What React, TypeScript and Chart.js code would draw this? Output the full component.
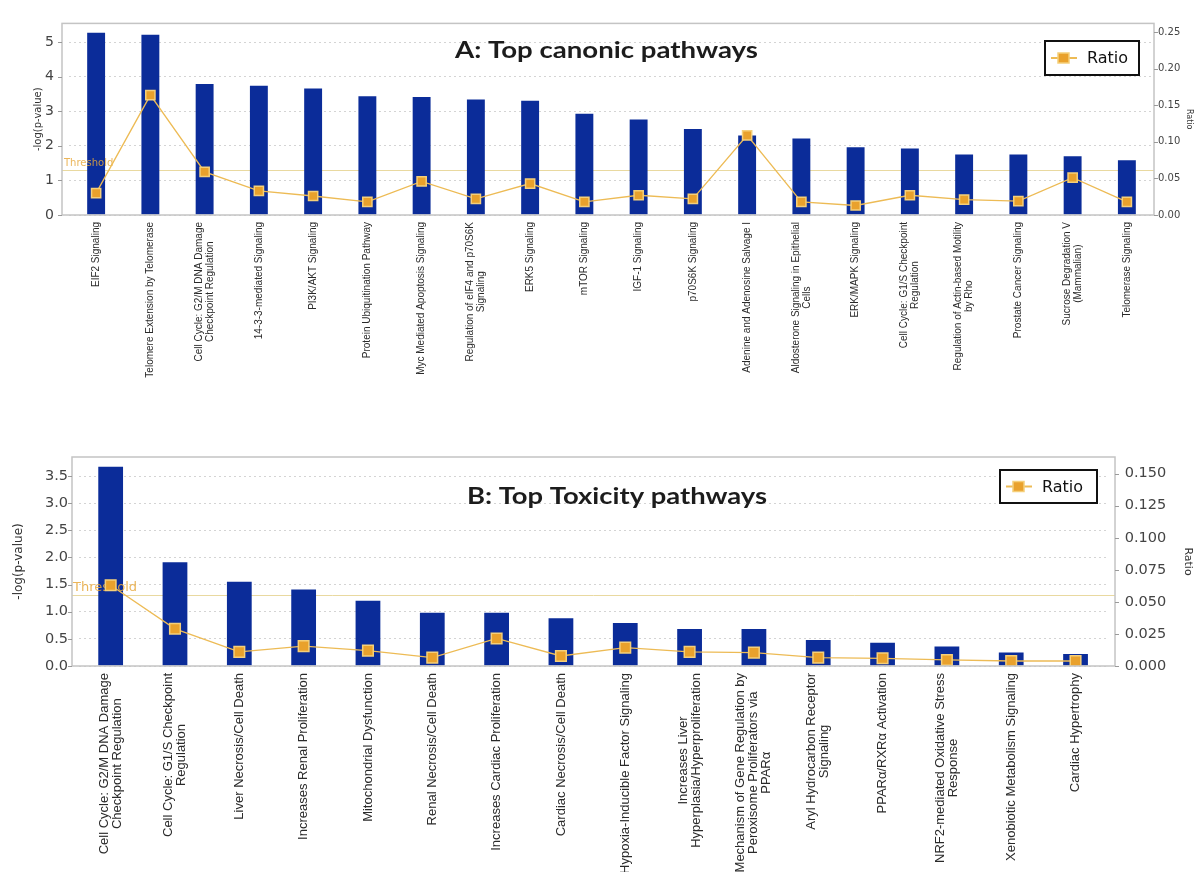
import React, { useEffect, useRef } from 'react';
import { Chart, registerables } from 'chart.js';

Chart.register(...registerables);

// ---------------- DATA ----------------
const canonicLabels: (string | string[])[] = [
  'EIF2 Signaling',
  'Telomere Extension by Telomerase',
  ['Cell Cycle: G2/M DNA Damage', 'Checkpoint Regulation'],
  '14-3-3-mediated Signaling',
  'PI3K/AKT Signaling',
  'Protein Ubiquitination Pathway',
  'Myc Mediated Apoptosis Signaling',
  ['Regulation of eIF4 and p70S6K', 'Signaling'],
  'ERK5 Signaling',
  'mTOR Signaling',
  'IGF-1 Signaling',
  'p70S6K Signaling',
  'Adenine and Adenosine Salvage I',
  ['Aldosterone Signaling in Epithelial', 'Cells'],
  'ERK/MAPK Signaling',
  ['Cell Cycle: G1/S Checkpoint', 'Regulation'],
  ['Regulation of Actin-based Motility', 'by Rho'],
  'Prostate Cancer Signaling',
  ['Sucrose Degradation V', '(Mammalian)'],
  'Telomerase Signaling',
];
const canonicLogP = [5.27, 5.21, 3.79, 3.74, 3.66, 3.43, 3.41, 3.34, 3.3, 2.93, 2.76, 2.49, 2.3, 2.21, 1.96, 1.92, 1.75, 1.75, 1.7, 1.58];
const canonicRatio = [0.03, 0.164, 0.059, 0.033, 0.026, 0.018, 0.046, 0.022, 0.043, 0.018, 0.027, 0.022, 0.109, 0.018, 0.013, 0.027, 0.021, 0.019, 0.051, 0.018];
const canonicLogPMax = 5.54;
const canonicLogPStep = 1;
const canonicRatioMax = 0.262;
const canonicRatioStep = 0.05;
const canonicThreshold = 1.3;
const canonicTitle = 'A: Top canonic pathways';

const toxLabels: (string | string[])[] = [
  ['Cell Cycle: G2/M DNA Damage', 'Checkpoint Regulation'],
  ['Cell Cycle: G1/S Checkpoint', 'Regulation'],
  'Liver Necrosis/Cell Death',
  'Increases Renal Proliferation',
  'Mitochondrial Dysfunction',
  'Renal Necrosis/Cell Death',
  'Increases Cardiac Proliferation',
  'Cardiac Necrosis/Cell Death',
  'Hypoxia-Inducible Factor Signaling',
  ['Increases Liver', 'Hyperplasia/Hyperproliferation'],
  ['Mechanism of Gene Regulation by', 'Peroxisome Proliferators via', 'PPARα'],
  ['Aryl Hydrocarbon Receptor', 'Signaling'],
  'PPARα/RXRα Activation',
  ['NRF2-mediated Oxidative Stress', 'Response'],
  'Xenobiotic Metabolism Signaling',
  'Cardiac Hypertrophy',
];
const toxLogP = [3.67, 1.91, 1.55, 1.41, 1.2, 0.98, 0.98, 0.88, 0.79, 0.68, 0.68, 0.48, 0.43, 0.36, 0.25, 0.22];
const toxRatio = [0.063, 0.029, 0.011, 0.0155, 0.012, 0.0065, 0.0215, 0.0078, 0.0143, 0.011, 0.0104, 0.0065, 0.006, 0.0047, 0.0039, 0.0039];
const toxLogPMax = 3.85;
const toxLogPStep = 0.5;
const toxRatioMax = 0.163;
const toxRatioStep = 0.025;
const toxThreshold = 1.31;
const toxTitle = 'B: Top Toxicity pathways';

// ---------------- STYLE ----------------
const W = 1195;
const BAR_COLOR = '#0B2C99';
const LINE_COLOR = '#EDBB55';
const MARKER_FILL = '#E9A12C';
const MARKER_BORDER = '#F5CF79';
const GRID_COLOR = '#d4d4d4';
const BOX_COLOR = '#c4c4c4';

type Spec = {
  top: number;
  height: number;
  labels: (string | string[])[];
  logp: number[];
  ratio: number[];
  logpMax: number;
  logpStep: number;
  logpDec: number;
  ratioMax: number;
  ratioStep: number;
  ratioDec: number;
  threshold: number;
  title: string;
  area: { left: number; right: number; top: number; bottom: number };
  box: { left: number; right: number };
  barPct: number;
  markerR: number;
  titlePos: { x: number; y: number; size: number; w: number };
  legend: { x: number; y: number; w: number; h: number; size: number };
  leftTickFont: number;
  rightTickFont: number;
  leftPad: number;
  rightPad: number;
  leftTitle: { x: number; size: number };
  rightTitle: { x: number; size: number };
  thrLabel: { x: number; y: number; size: number };
  xFont: number;
  xLine: number;
  xGap: number;
};

const specA: Spec = {
  top: 0,
  height: 400,
  labels: canonicLabels,
  logp: canonicLogP,
  ratio: canonicRatio,
  logpMax: canonicLogPMax,
  logpStep: canonicLogPStep,
  logpDec: 0,
  ratioMax: canonicRatioMax,
  ratioStep: canonicRatioStep,
  ratioDec: 2,
  threshold: canonicThreshold,
  title: canonicTitle,
  area: { left: 69, right: 1154, top: 20, bottom: 215 },
  box: { left: 62, right: 1154 },
  barPct: 0.33,
  markerR: 6.5,
  titlePos: { x: 606.5, y: 58, size: 22, w: 303 },
  legend: { x: 1045, y: 41, w: 94, h: 34, size: 16 },
  leftTickFont: 14,
  rightTickFont: 10,
  leftPad: 15,
  rightPad: 4,
  leftTitle: { x: 38, size: 10 },
  rightTitle: { x: 1189, size: 8 },
  thrLabel: { x: 64, y: 163, size: 10 },
  xFont: 10,
  xLine: 11,
  xGap: 7,
};

const specB: Spec = {
  top: 400,
  height: 600,
  labels: toxLabels,
  logp: toxLogP,
  ratio: toxRatio,
  logpMax: toxLogPMax,
  logpStep: toxLogPStep,
  logpDec: 1,
  ratioMax: toxRatioMax,
  ratioStep: toxRatioStep,
  ratioDec: 3,
  threshold: toxThreshold,
  title: toxTitle,
  area: { left: 78.5, right: 1107.7, top: 57, bottom: 266 },
  box: { left: 72, right: 1115 },
  barPct: 0.385,
  markerR: 7.5,
  titlePos: { x: 617, y: 104, size: 22, w: 300 },
  legend: { x: 1000, y: 70, w: 97, h: 33, size: 16 },
  leftTickFont: 14.5,
  rightTickFont: 14.5,
  leftPad: 10.5,
  rightPad: 17,
  leftTitle: { x: 19, size: 12 },
  rightTitle: { x: 1188, size: 11 },
  thrLabel: { x: 73, y: 188, size: 13 },
  xFont: 13,
  xLine: 13,
  xGap: 7,
};

const overlayPlugin = {
  id: 'overlay',
  beforeDatasetsDraw(chart: any, _args: any, o: any) {
    const s: Spec = o.spec;
    if (!s) return;
    const { ctx } = chart;
    const y = chart.scales.y;
    const ty = Math.round(y.getPixelForValue(s.threshold)) + 0.5;
    ctx.save();
    ctx.strokeStyle = '#E9D9A0';
    ctx.lineWidth = 1;
    ctx.beginPath();
    ctx.moveTo(s.box.left, ty);
    ctx.lineTo(s.box.right, ty);
    ctx.stroke();
    ctx.restore();
  },
  afterDatasetDraw(chart: any, args: any, o: any) {
    const s: Spec = o.spec;
    if (!s || args.index !== 1) return;
    const { ctx } = chart;
    ctx.save();
    ctx.font = `${s.thrLabel.size}px "DejaVu Sans"`;
    ctx.fillStyle = 'rgba(232,168,60,0.85)';
    ctx.textAlign = 'left';
    ctx.textBaseline = 'middle';
    ctx.fillText('Threshold', s.thrLabel.x, s.thrLabel.y);
    ctx.restore();
  },
  afterDraw(chart: any, _args: any, o: any) {
    const s: Spec = o.spec;
    if (!s) return;
    const { ctx, chartArea } = chart;
    const y = chart.scales.y;
    const y1 = chart.scales.y1;
    const x = chart.scales.x;
    ctx.save();
    // plot box
    ctx.strokeStyle = BOX_COLOR;
    ctx.lineWidth = 1.5;
    ctx.strokeRect(s.box.left, chartArea.top, s.box.right - s.box.left, chartArea.bottom - chartArea.top);
    // tick marks
    ctx.lineWidth = 1;
    ctx.strokeStyle = '#9a9a9a';
    y.ticks.forEach((t: any) => {
      const py = Math.round(y.getPixelForValue(t.value)) + 0.5;
      ctx.beginPath();
      ctx.moveTo(s.box.left - 4, py);
      ctx.lineTo(s.box.left, py);
      ctx.stroke();
    });
    y1.ticks.forEach((t: any) => {
      const py = Math.round(y1.getPixelForValue(t.value)) + 0.5;
      ctx.beginPath();
      ctx.moveTo(s.box.right, py);
      ctx.lineTo(s.box.right + 4, py);
      ctx.stroke();
    });
    // title (stretched horizontally to the reference width)
    ctx.fillStyle = '#1c1c1c';
    ctx.font = `bold ${s.titlePos.size}px Lato`;
    ctx.textAlign = 'center';
    ctx.textBaseline = 'alphabetic';
    const tw = ctx.measureText(s.title).width;
    ctx.save();
    ctx.translate(s.titlePos.x, s.titlePos.y);
    ctx.scale(s.titlePos.w / tw, 1);
    ctx.fillText(s.title, 0, 0);
    ctx.restore();
    // legend
    const L = s.legend;
    ctx.fillStyle = '#ffffff';
    ctx.fillRect(L.x, L.y, L.w, L.h);
    ctx.strokeStyle = '#111';
    ctx.lineWidth = 2;
    ctx.strokeRect(L.x, L.y, L.w, L.h);
    const cy = L.y + L.h / 2;
    ctx.strokeStyle = LINE_COLOR;
    ctx.lineWidth = 2;
    ctx.beginPath();
    ctx.moveTo(L.x + 6, cy);
    ctx.lineTo(L.x + 32, cy);
    ctx.stroke();
    ctx.fillStyle = MARKER_FILL;
    ctx.strokeStyle = MARKER_BORDER;
    ctx.lineWidth = 1.5;
    ctx.fillRect(L.x + 13, cy - 5, 11, 10);
    ctx.strokeRect(L.x + 13, cy - 5, 11, 10);
    ctx.fillStyle = '#111';
    ctx.font = `${L.size}px "DejaVu Sans"`;
    ctx.textAlign = 'left';
    ctx.textBaseline = 'middle';
    ctx.fillText('Ratio', L.x + 42, cy + 1);
    // axis titles
    const midY = (chartArea.top + chartArea.bottom) / 2;
    ctx.fillStyle = '#333';
    ctx.textAlign = 'center';
    ctx.textBaseline = 'middle';
    ctx.save();
    ctx.translate(s.leftTitle.x, midY);
    ctx.rotate(-Math.PI / 2);
    ctx.font = `${s.leftTitle.size}px "DejaVu Sans"`;
    ctx.fillText('-log(p-value)', 0, 0);
    ctx.restore();
    ctx.save();
    ctx.translate(s.rightTitle.x, midY);
    ctx.rotate(Math.PI / 2);
    ctx.font = `${s.rightTitle.size}px "DejaVu Sans"`;
    ctx.fillText('Ratio', 0, 0);
    ctx.restore();
    // category labels (rotated, lines centred on each other)
    ctx.fillStyle = '#2a2a2a';
    ctx.font = `${s.xFont}px "Liberation Sans"`;
    s.labels.forEach((lab, i) => {
      const lines = Array.isArray(lab) ? lab : [lab];
      const px = x.getPixelForValue(i);
      const maxW = Math.max(...lines.map((l) => ctx.measureText(l).width));
      ctx.save();
      ctx.translate(px, chartArea.bottom + s.xGap);
      ctx.rotate(-Math.PI / 2);
      ctx.textAlign = 'center';
      ctx.textBaseline = 'middle';
      const n = lines.length;
      lines.forEach((l, j) => {
        ctx.fillText(l, -maxW / 2, (j - (n - 1) / 2) * s.xLine);
      });
      ctx.restore();
    });
    ctx.restore();
  },
};

function buildConfig(s: Spec): any {
  return {
    type: 'bar',
    data: {
      labels: s.labels.map((l) => (Array.isArray(l) ? l.join(' ') : l)),
      datasets: [
        {
          type: 'line',
          label: 'Ratio',
          data: s.ratio,
          yAxisID: 'y1',
          borderColor: LINE_COLOR,
          borderWidth: 1.3,
          pointStyle: 'rect',
          pointRadius: s.markerR,
          pointBackgroundColor: MARKER_FILL,
          pointBorderColor: MARKER_BORDER,
          pointBorderWidth: 1.5,
          tension: 0,
          order: 0,
        },
        {
          type: 'bar',
          label: '-log(p-value)',
          data: s.logp,
          yAxisID: 'y',
          backgroundColor: BAR_COLOR,
          categoryPercentage: 1,
          barPercentage: s.barPct,
          order: 1,
        },
      ],
    },
    options: {
      responsive: false,
      animation: false,
      devicePixelRatio: 1,
      layout: { padding: { top: s.area.top, left: 0, right: 0, bottom: 0 } },
      plugins: {
        legend: { display: false },
        tooltip: { enabled: false },
        title: { display: false },
        overlay: { spec: s },
      },
      scales: {
        x: {
          type: 'category',
          offset: true,
          grid: { display: false, drawTicks: false },
          border: { display: false },
          ticks: { display: false },
          afterFit: (sc: any) => {
            sc.height = s.height - s.area.bottom;
          },
        },
        y: {
          position: 'left',
          min: 0,
          max: s.logpMax,
          ticks: {
            stepSize: s.logpStep,
            includeBounds: false,
            padding: s.leftPad,
            color: '#444',
            font: { family: '"DejaVu Sans"', size: s.leftTickFont },
            callback: (v: any) => Number(v).toFixed(s.logpDec),
          },
          grid: { color: GRID_COLOR, drawTicks: false, lineWidth: 1 },
          border: { display: false, dash: [2, 3] },
          afterFit: (sc: any) => {
            sc.width = s.area.left;
          },
        },
        y1: {
          position: 'right',
          min: 0,
          max: s.ratioMax,
          ticks: {
            stepSize: s.ratioStep,
            includeBounds: false,
            padding: s.rightPad,
            color: '#444',
            font: { family: '"DejaVu Sans"', size: s.rightTickFont },
            callback: (v: any) => Number(v).toFixed(s.ratioDec),
          },
          grid: { drawOnChartArea: false, drawTicks: false },
          border: { display: false },
          afterFit: (sc: any) => {
            sc.width = W - s.area.right;
          },
        },
      },
    },
    plugins: [overlayPlugin],
  };
}

function Panel({ spec }: { spec: Spec }) {
  const ref = useRef<HTMLCanvasElement>(null);
  useEffect(() => {
    if (!ref.current) return;
    const chart = new Chart(ref.current, buildConfig(spec));
    return () => chart.destroy();
  }, [spec]);
  return (
    <canvas
      ref={ref}
      width={W}
      height={spec.height}
      style={{ position: 'absolute', left: 0, top: spec.top, width: W, height: spec.height, display: 'block' }}
    />
  );
}

export default function App() {
  return (
    <div
      style={{
        position: 'absolute',
        left: 0,
        top: 0,
        width: W,
        height: 872,
        overflow: 'hidden',
        background: '#ffffff',
      }}
    >
      <Panel spec={specA} />
      <Panel spec={specB} />
    </div>
  );
}
